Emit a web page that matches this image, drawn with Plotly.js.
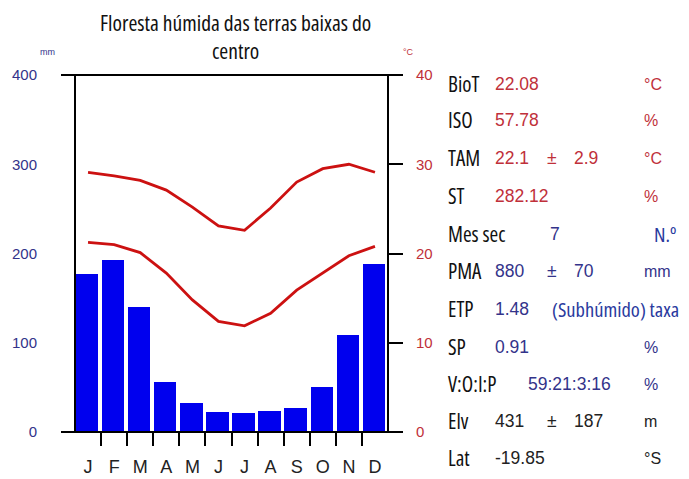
<!DOCTYPE html>
<html>
<head>
<meta charset="utf-8">
<script src="https://cdn.plot.ly/plotly-3.0.1.min.js"></script>
<style>
html,body{margin:0;padding:0;background:#fff;}
#chart{width:689px;height:479px;}
text[style*="Open Sans"]{font-stretch:condensed;}
</style>
</head>
<body>
<div id="chart"></div>
<script>
// ---- data ----
const months = ["J","F","M","A","M","J","J","A","S","O","N","D"];
const precipitation = [177, 193, 140, 56, 33, 22, 21, 24, 27, 50, 109, 188];
const tempMax = [29.1, 28.7, 28.2, 27.1, 25.2, 23.1, 22.6, 25.1, 28.0, 29.5, 30.0, 29.1];
const tempMin = [21.25, 21.0, 20.1, 17.8, 14.8, 12.4, 11.9, 13.3, 15.9, 17.8, 19.75, 20.8];
const precipTicks = [0, 100, 200, 300, 400];
const tempTicks = [0, 10, 20, 30, 40];
const titleText = "Floresta húmida das terras baixas do<br>centro";

// side panel text
const statLabels = ["BioT","ISO","TAM","ST","Mes sec","PMA","ETP","SP","V:O:I:P","Elv","Lat"];
const statValues = ["22.08","57.78","22.1","282.12","7","880","1.48","0.91","59:21:3:16","431","-19.85"];
const statSpread = ["","","2.9","","","70","","","","187",""];
const statUnits = ["°C","%","°C","%","N.º","mm","(Subhúmido) taxa","%","%","m","°S"];

// ---- styling helpers ----
const W = 689, H = 479;
const L = 75, R = 388, T = 75, B = 432;
const pw = R - L, ph = B - T;
const px = x => (x - L) / pw;
const py = y => (B - y) / ph;

const RED = "#c0303a", NAVY = "#33338a", BLUE = "#2a3a9e", BLK = "#222222";
const valueColors = [RED,RED,RED,RED,NAVY,NAVY,NAVY,NAVY,NAVY,BLK,BLK];
const unitColors = [RED,RED,RED,RED,BLUE,NAVY,BLUE,NAVY,NAVY,BLK,BLK];
const unitCondensed = [false,false,false,false,true,false,true,false,false,false,false];
const rowY = [84,120,158,196,234,271,309,347,384,421,458];
const COND = "Open Sans, sans-serif";
const ARIAL = "Liberation Sans, Arial, sans-serif";

const idx = months.map((_, i) => i);

const traces = [
  {type: "bar", x: idx, y: precipitation, marker: {color: "#0000ee", line: {width: 0}},
   width: 0.86, offset: -0.47, xaxis: "x", yaxis: "y", hoverinfo: "skip"},
  {type: "scatter", mode: "lines", x: idx, y: tempMax, line: {color: "#cc1111", width: 2.8, shape: "linear"},
   xaxis: "x2", yaxis: "y2", hoverinfo: "skip"},
  {type: "scatter", mode: "lines", x: idx, y: tempMin, line: {color: "#cc1111", width: 2.8, shape: "linear"},
   xaxis: "x2", yaxis: "y2", hoverinfo: "skip"}
];

const annotations = [];
annotations.push({text: titleText, xref: "paper", yref: "paper", x: px(235), y: py(37), xanchor: "center", yanchor: "middle",
  showarrow: false, font: {family: COND, size: 21.5, color: "#111"}});
annotations.push({text: "mm", xref: "paper", yref: "paper", x: px(47), y: py(52), xanchor: "center", yanchor: "middle",
  showarrow: false, font: {family: ARIAL, size: 9, color: NAVY}});
annotations.push({text: "°C", xref: "paper", yref: "paper", x: px(408), y: py(52), xanchor: "center", yanchor: "middle",
  showarrow: false, font: {family: ARIAL, size: 9, color: RED}});

statLabels.forEach((lab, i) => {
  const y = py(rowY[i]);
  annotations.push({text: lab, xref: "paper", yref: "paper", x: px(446), y: y, xanchor: "left", yanchor: "middle",
    showarrow: false, font: {family: COND, size: 21, color: "#111"}});
  let vx = 493;
  if (lab === "Mes sec") vx = 548;
  if (lab === "V:O:I:P") vx = 526;
  annotations.push({text: statValues[i], xref: "paper", yref: "paper", x: px(vx), y: y, xanchor: "left", yanchor: "middle",
    showarrow: false, font: {family: ARIAL, size: 17.5, color: valueColors[i]}});
  if (statSpread[i]) {
    annotations.push({text: "±", xref: "paper", yref: "paper", x: px(545), y: y, xanchor: "left", yanchor: "middle",
      showarrow: false, font: {family: ARIAL, size: 17.5, color: valueColors[i]}});
    annotations.push({text: statSpread[i], xref: "paper", yref: "paper", x: px(572), y: y, xanchor: "left", yanchor: "middle",
      showarrow: false, font: {family: ARIAL, size: 17.5, color: valueColors[i]}});
  }
  let ux = 642;
  if (unitCondensed[i] && statUnits[i].startsWith("(")) ux = 550;
  if (unitCondensed[i] && !statUnits[i].startsWith("(")) ux = 652;
  annotations.push({text: statUnits[i], xref: "paper", yref: "paper", x: px(ux), y: y, xanchor: "left", yanchor: "middle",
    showarrow: false, font: {family: unitCondensed[i] ? COND : ARIAL, size: unitCondensed[i] ? 20.5 : 16, color: unitColors[i]}});
});

const lineStyle = {color: "#000", width: 2};
const shapes = [
  {type: "line", xref: "paper", yref: "paper", x0: px(61), x1: px(402), y0: 1, y1: 1, line: lineStyle},
  {type: "line", xref: "paper", yref: "paper", x0: px(61), x1: px(402), y0: 0, y1: 0, line: lineStyle},
  {type: "line", xref: "paper", yref: "paper", x0: 0, x1: 0, y0: 0, y1: 1, line: lineStyle},
  {type: "line", xref: "paper", yref: "paper", x0: 1, x1: 1, y0: 0, y1: 1, line: lineStyle}
];

const layout = {
  width: W, height: H,
  margin: {l: L, r: W - R, t: T, b: H - B, pad: 0},
  paper_bgcolor: "#fff", plot_bgcolor: "#fff",
  font: {family: ARIAL},
  showlegend: false,
  bargap: 0,
  xaxis: {range: [-0.5, 11.5], tickvals: idx, ticktext: months, ticks: "", showgrid: false, zeroline: false,
    showline: false, tickfont: {family: ARIAL, size: 18, color: "#222"}, ticklabelstandoff: 22, fixedrange: true},
  xaxis2: {range: [-0.5, 11.5], overlaying: "x", anchor: "y2", side: "bottom", tickvals: idx.slice(0, 11).map(v => v + 0.5),
    ticks: "outside", ticklen: 13, tickwidth: 2, tickcolor: "#000", showticklabels: false, showgrid: false, zeroline: false,
    showline: false, fixedrange: true},
  yaxis: {range: [0, 400], tickvals: precipTicks, ticks: "", showgrid: false, zeroline: false, showline: false,
    tickfont: {family: ARIAL, size: 15, color: NAVY}, ticklabelstandoff: 37, fixedrange: true},
  yaxis2: {range: [0, 40], tickvals: tempTicks, overlaying: "y", side: "right", anchor: "x2", ticks: "outside", ticklen: 14,
    tickwidth: 2, tickcolor: "#000", showgrid: false, zeroline: false, showline: false,
    tickfont: {family: ARIAL, size: 15, color: RED}, ticklabelstandoff: 10, fixedrange: true},
  annotations: annotations,
  shapes: shapes
};

Plotly.newPlot("chart", traces, layout, {staticPlot: true, displayModeBar: false});
</script>
</body>
</html>
